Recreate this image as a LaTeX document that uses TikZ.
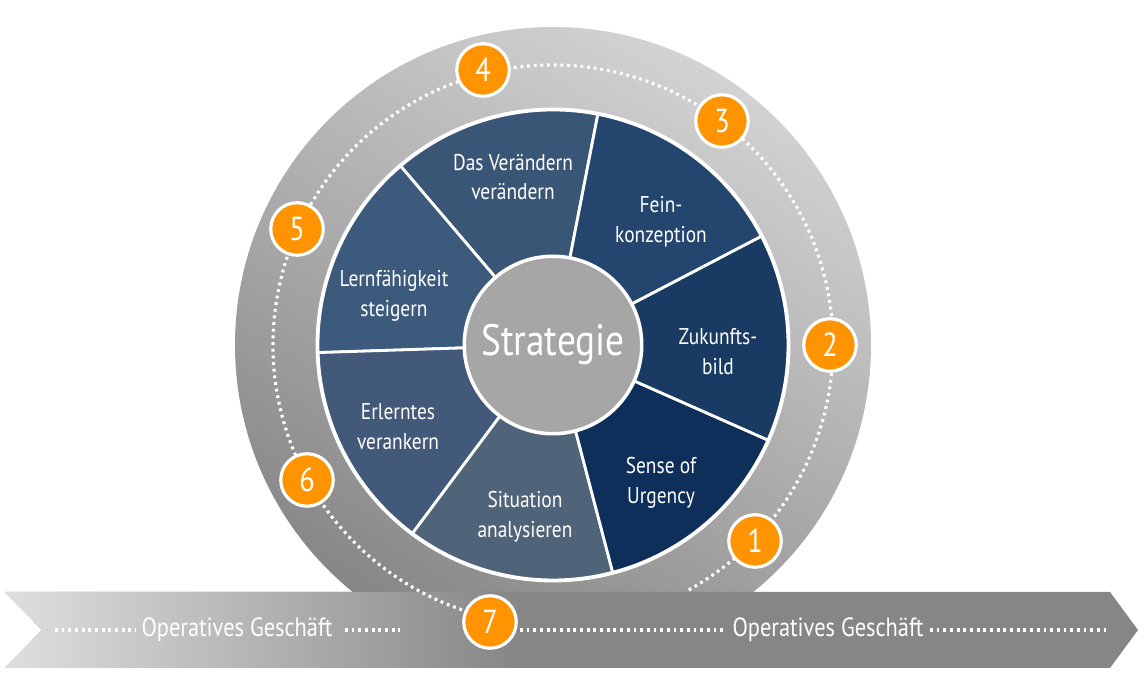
\documentclass[tikz,border=0pt]{standalone}
\usepackage{fontspec}
\usetikzlibrary{calc}
\setmainfont[FakeStretch=0.85]{PT Sans}
\begin{document}
\begin{tikzpicture}[x=0.02cm,y=0.02cm,
  lab/.style={text=white,align=center,font=\fontsize{13}{17}\selectfont},
  badge/.style={circle,fill=orange!85!yellow,draw=white,line width=1.8pt,minimum size=1.05cm,inner sep=0pt,text=white,font=\fontsize{19}{19}\selectfont},
  dots/.style={white,line width=1.8pt,dash pattern=on 1.6pt off 2.2pt},
  btext/.style={text=white,font=\fontsize{15}{15}\selectfont}]
\useasboundingbox (0,0) rectangle (1146,678);
\coordinate (c) at (553,333);
% outer ring
\shade[shading=axis,top color=gray!35,bottom color=gray!95,shading angle=-30] (c) circle[radius=318];
% wedges
\def\sa{79}\def\st{51.4286}
\foreach \k/\col in {0/3A5676,1/3C5A7B,2/42597A,3/506479,4/0E2F5A,5/183A63,6/23456E}{
  \definecolor{wc}{HTML}{\col}
  \pgfmathsetmacro\aa{\sa+\k*\st}\pgfmathsetmacro\ab{\sa+(\k+1)*\st}
  \fill[wc,draw=white,line width=1.6pt] (c) -- ($(c)+(\aa:235)$) arc[start angle=\aa,end angle=\ab,radius=235] -- cycle;
}
\draw[white,line width=1.6pt] (c) circle[radius=236];
\node[circle,fill=gray!70,draw=white,line width=2pt,minimum size=3.55cm,text=white,font=\fontsize{25}{25}\selectfont] (s) at (c) {Strategie};
% band
\fill[gray!95!white] (5,86) -- (1110,86) -- (1138,48) -- (1110,10) -- (5,10) -- (42,48) -- cycle;
\shade[left color=gray!25,right color=gray!95!white] (5,86) -- (520,86) -- (520,10) -- (5,10) -- (42,48) -- cycle;
\node[btext] (t1) at (237,48) {Operatives Geschäft};
\node[btext] (t2) at (828,48) {Operatives Geschäft};
\coordinate (l1) at (55,48);\coordinate (l2) at (345,48);\coordinate (l3) at (520,48);\coordinate (l4) at (930,48);\coordinate (l5) at (1110,48);
\draw[dots] (l1) -- (t1.west);\draw[dots] (l2) -- (400,48);
\draw[dots] (l3) -- (t2.west);\draw[dots] (l4) -- (l5);
% dotted circle
\draw[dots] ($(c)+(-61:280)$) arc[start angle=-61,end angle=257,radius=280];
% labels
\node[lab] (w1) at (513,501) {Das Verändern\\verändern};
\node[lab] (w2) at (661,456) {Fein-\\konzeption};
\node[lab] (w3) at (718,326) {Zukunfts-\\bild};
\node[lab] (w4) at (661,195) {Sense of\\Urgency};
\node[lab] (w5) at (525,161) {Situation\\analysieren};
\node[lab] (w6) at (398,251) {Erlerntes\\verankern};
\node[lab] (w7) at (394,382) {Lernfähigkeit\\steigern};
% badges
\node[badge] (b1) at (755,137) {1};
\node[badge] (b2) at (830,333) {2};
\node[badge] (b3) at (722,557) {3};
\node[badge] (b4) at (483,608) {4};
\node[badge] (b5) at (297,449) {5};
\node[badge] (b6) at (307,198) {6};
\node[badge] (b7) at (490,56) {7};
\end{tikzpicture}
\end{document}
